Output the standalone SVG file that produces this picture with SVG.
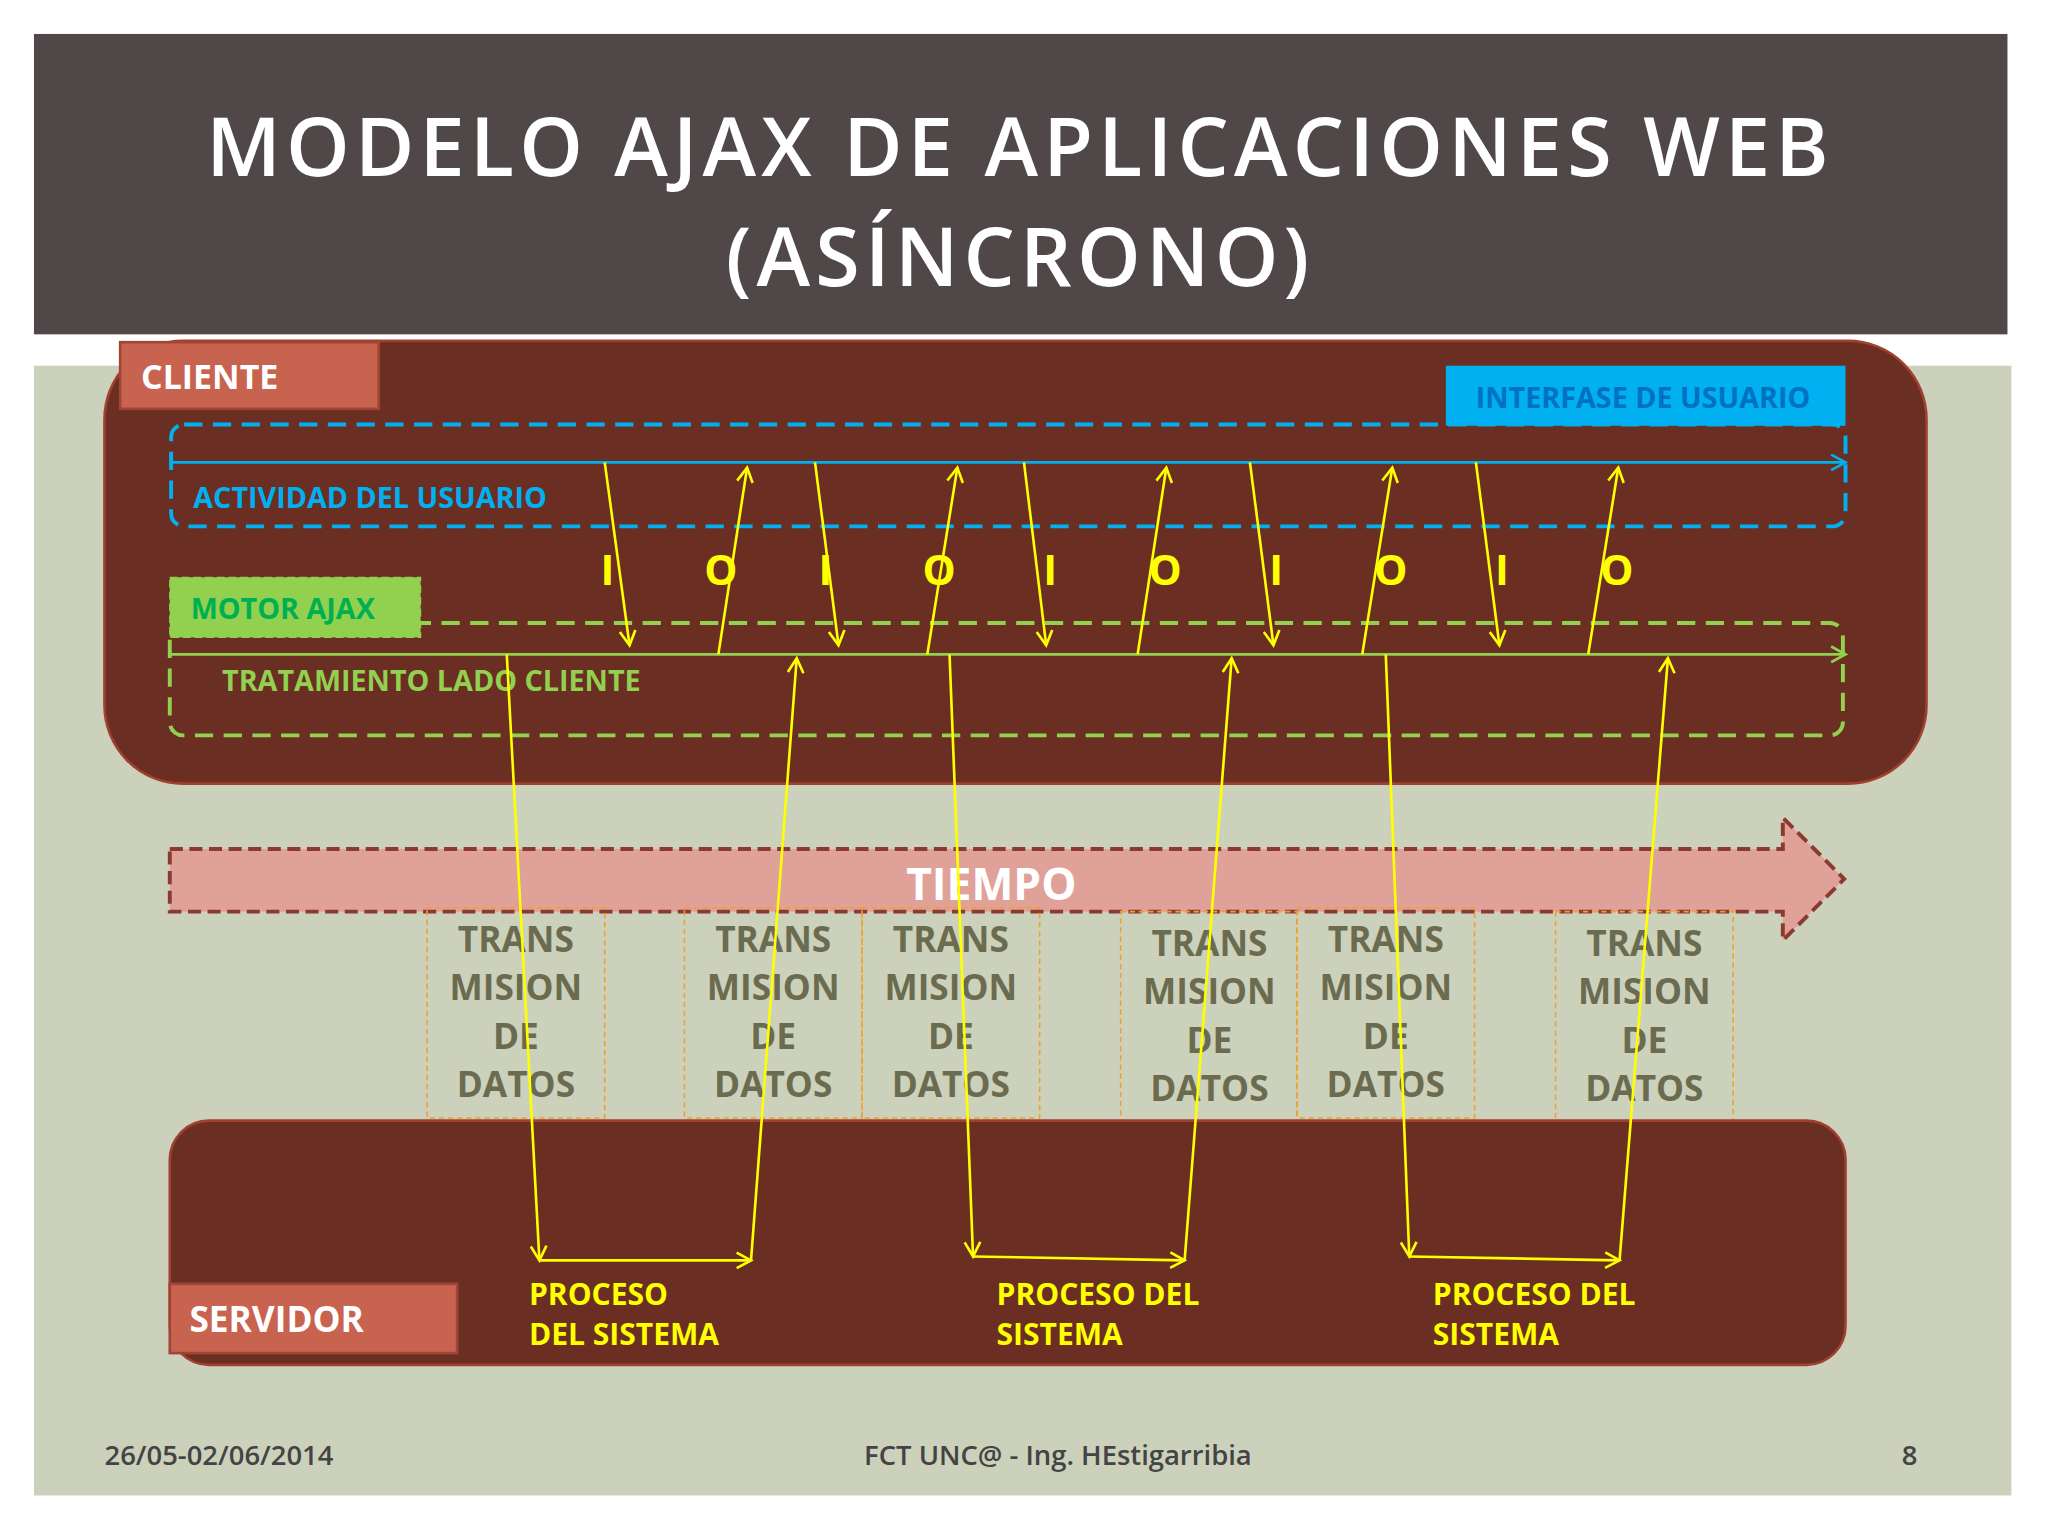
<svg xmlns="http://www.w3.org/2000/svg" width="2048" height="1536" viewBox="0 0 2048 1536">
<style>
.t{font-family:"Open Sans","Liberation Sans",sans-serif;font-weight:bold}
.y{stroke:#ffff00;stroke-width:2;fill:none;marker-end:url(#ya)}
.tb{fill:none;stroke:#f0a030;stroke-width:1.2;stroke-dasharray:4,3}
.tt{font-family:"Open Sans","Liberation Sans",sans-serif;font-weight:bold;font-size:27px;fill:#6b6b50;text-anchor:middle}
.io{font-family:"Open Sans","Liberation Sans",sans-serif;font-weight:bold;font-size:32px;fill:#ffff00;text-anchor:middle}
.pr{font-family:"Open Sans","Liberation Sans",sans-serif;font-weight:bold;font-size:23px;fill:#ffff00}
.ti{font-family:"Open Sans","Liberation Sans",sans-serif;font-weight:600;font-size:62px;fill:#fff;text-anchor:middle;letter-spacing:4px}
</style>
<defs>
<marker id="ya" markerWidth="14" markerHeight="14" refX="12" refY="7" orient="auto" markerUnits="userSpaceOnUse"><path d="M1,1 L12,7 L1,13" fill="none" stroke="#ffff00" stroke-width="2"/></marker>
<marker id="ba" markerWidth="14" markerHeight="14" refX="12" refY="7" orient="auto" markerUnits="userSpaceOnUse"><path d="M1,1 L12,7 L1,13" fill="none" stroke="#00b0f0" stroke-width="2"/></marker>
<marker id="ga" markerWidth="14" markerHeight="14" refX="12" refY="7" orient="auto" markerUnits="userSpaceOnUse"><path d="M1,1 L12,7 L1,13" fill="none" stroke="#92d050" stroke-width="2"/></marker>
</defs>
<rect width="2048" height="1536" fill="#ffffff"/>
<g transform="scale(1.3061)">
<rect x="26" y="280" width="1514" height="865" fill="#ccd1bb"/>
<g id="title">
<rect x="26" y="26" width="1511" height="230" fill="#504848"/>
<text x="781" y="135" class="ti">MODELO AJAX DE APLICACIONES WEB</text>
<text x="781" y="219" class="ti">(ASÍNCRONO)</text>
</g>
<g id="cliente">
<rect x="80" y="261" width="1395" height="339" rx="60" fill="#6b2e22" stroke="#a04030" stroke-width="2"/>
<rect x="92" y="262" width="198" height="51" fill="#c8634f" stroke="#a04535" stroke-width="2"/>
<text x="108" y="298" class="t" font-size="26" fill="#fff">CLIENTE</text>
</g>
<g id="interfase">
<rect x="131" y="325" width="1282" height="78" rx="10" fill="none" stroke="#00b0f0" stroke-width="3" stroke-dasharray="14,8"/>
<rect x="1107" y="280" width="306" height="46" fill="#00b0f0"/>
<text x="1258" y="312" class="t" font-size="22" fill="#0070c0" text-anchor="middle">INTERFASE DE USUARIO</text>
<text x="148" y="389" class="t" font-size="22" fill="#00b0f0">ACTIVIDAD DEL USUARIO</text>
</g>
<g id="motor">
<rect x="130" y="477" width="1281" height="86" rx="10" fill="none" stroke="#92d050" stroke-width="3" stroke-dasharray="14,8"/>
<rect x="130" y="442" width="192" height="46" fill="#92d050" stroke="#92d050" stroke-dasharray="6,3"/>
<text x="146" y="474" class="t" font-size="22" fill="#00b050">MOTOR AJAX</text>
<text x="170" y="529" class="t" font-size="22" fill="#92d050">TRATAMIENTO LADO CLIENTE</text>
</g>
<g id="tiempo">
<polygon points="130,650 1365,650 1365,626 1412,673 1365,720 1365,698 130,698" fill="#e0a298" stroke="#8b3a30" stroke-width="3" stroke-dasharray="10,5"/>
<text x="759" y="689" class="t" font-size="34" fill="#fff" text-anchor="middle">TIEMPO</text>
</g>
<g id="trans">
<g><rect class="tb" x="327" y="695" width="136" height="161"/><text class="tt" x="395" y="729">TRANS</text><text class="tt" x="395" y="766">MISION</text><text class="tt" x="395" y="803">DE</text><text class="tt" x="395" y="840">DATOS</text></g>
<g><rect class="tb" x="524" y="695" width="136" height="161"/><text class="tt" x="592" y="729">TRANS</text><text class="tt" x="592" y="766">MISION</text><text class="tt" x="592" y="803">DE</text><text class="tt" x="592" y="840">DATOS</text></g>
<g><rect class="tb" x="660" y="695" width="136" height="161"/><text class="tt" x="728" y="729">TRANS</text><text class="tt" x="728" y="766">MISION</text><text class="tt" x="728" y="803">DE</text><text class="tt" x="728" y="840">DATOS</text></g>
<g><rect class="tb" x="858" y="698" width="135" height="160"/><text class="tt" x="926" y="732">TRANS</text><text class="tt" x="926" y="769">MISION</text><text class="tt" x="926" y="806">DE</text><text class="tt" x="926" y="843">DATOS</text></g>
<g><rect class="tb" x="993" y="695" width="136" height="161"/><text class="tt" x="1061" y="729">TRANS</text><text class="tt" x="1061" y="766">MISION</text><text class="tt" x="1061" y="803">DE</text><text class="tt" x="1061" y="840">DATOS</text></g>
<g><rect class="tb" x="1191" y="698" width="136" height="160"/><text class="tt" x="1259" y="732">TRANS</text><text class="tt" x="1259" y="769">MISION</text><text class="tt" x="1259" y="806">DE</text><text class="tt" x="1259" y="843">DATOS</text></g>
</g>
<g id="servidor">
<rect x="130" y="858" width="1283" height="187" rx="30" fill="#6b2e22" stroke="#a04030" stroke-width="2"/>
<rect x="130" y="983" width="220" height="53" fill="#c8634f" stroke="#a04535" stroke-width="2"/>
<text x="145" y="1020" class="t" font-size="27" fill="#fff">SERVIDOR</text>
<text class="pr" x="405" y="999">PROCESO</text><text class="pr" x="405" y="1030">DEL SISTEMA</text>
<text class="pr" x="763" y="999">PROCESO DEL</text><text class="pr" x="763" y="1030">SISTEMA</text>
<text class="pr" x="1097" y="999">PROCESO DEL</text><text class="pr" x="1097" y="1030">SISTEMA</text>
</g>
<g id="io">
<text class="io" x="465" y="448">I</text><text class="io" x="552" y="448">O</text>
<text class="io" x="632" y="448">I</text><text class="io" x="719" y="448">O</text>
<text class="io" x="804" y="448">I</text><text class="io" x="892" y="448">O</text>
<text class="io" x="977" y="448">I</text><text class="io" x="1065" y="448">O</text>
<text class="io" x="1150" y="448">I</text><text class="io" x="1238" y="448">O</text>
</g>
<g id="connectors">
<line x1="131" y1="354" x2="1413" y2="354" stroke="#00b0f0" stroke-width="2" marker-end="url(#ba)"/>
<line x1="130" y1="501" x2="1413" y2="501" stroke="#92d050" stroke-width="2" marker-end="url(#ga)"/>
<line class="y" x1="463" y1="354" x2="482" y2="494"/>
<line class="y" x1="624" y1="354" x2="642" y2="494"/>
<line class="y" x1="784" y1="354" x2="801" y2="494"/>
<line class="y" x1="957" y1="354" x2="975" y2="494"/>
<line class="y" x1="1130" y1="354" x2="1148" y2="494"/>
<line class="y" x1="550" y1="501" x2="572" y2="358"/>
<line class="y" x1="710" y1="501" x2="733" y2="358"/>
<line class="y" x1="871" y1="501" x2="893" y2="358"/>
<line class="y" x1="1043" y1="501" x2="1066" y2="358"/>
<line class="y" x1="1216" y1="501" x2="1239" y2="358"/>
<line class="y" x1="388" y1="501" x2="413" y2="965"/>
<line class="y" x1="727" y1="501" x2="745" y2="962"/>
<line class="y" x1="1061" y1="501" x2="1079" y2="962"/>
<line class="y" x1="413" y1="965" x2="575" y2="965"/>
<line class="y" x1="745" y1="962" x2="907" y2="965"/>
<line class="y" x1="1079" y1="962" x2="1240" y2="965"/>
<line class="y" x1="575" y1="965" x2="610" y2="504"/>
<line class="y" x1="907" y1="965" x2="943" y2="504"/>
<line class="y" x1="1240" y1="965" x2="1277" y2="504"/>
</g>
<g id="footer" font-family="Open Sans, Liberation Sans, sans-serif" font-size="21" font-weight="600" fill="#444">
<text x="80" y="1122">26/05-02/06/2014</text>
<text x="810" y="1122" text-anchor="middle">FCT UNC@ - Ing. HEstigarribia</text>
<text x="1462" y="1122" text-anchor="middle">8</text>
</g>
</g>
</svg>
